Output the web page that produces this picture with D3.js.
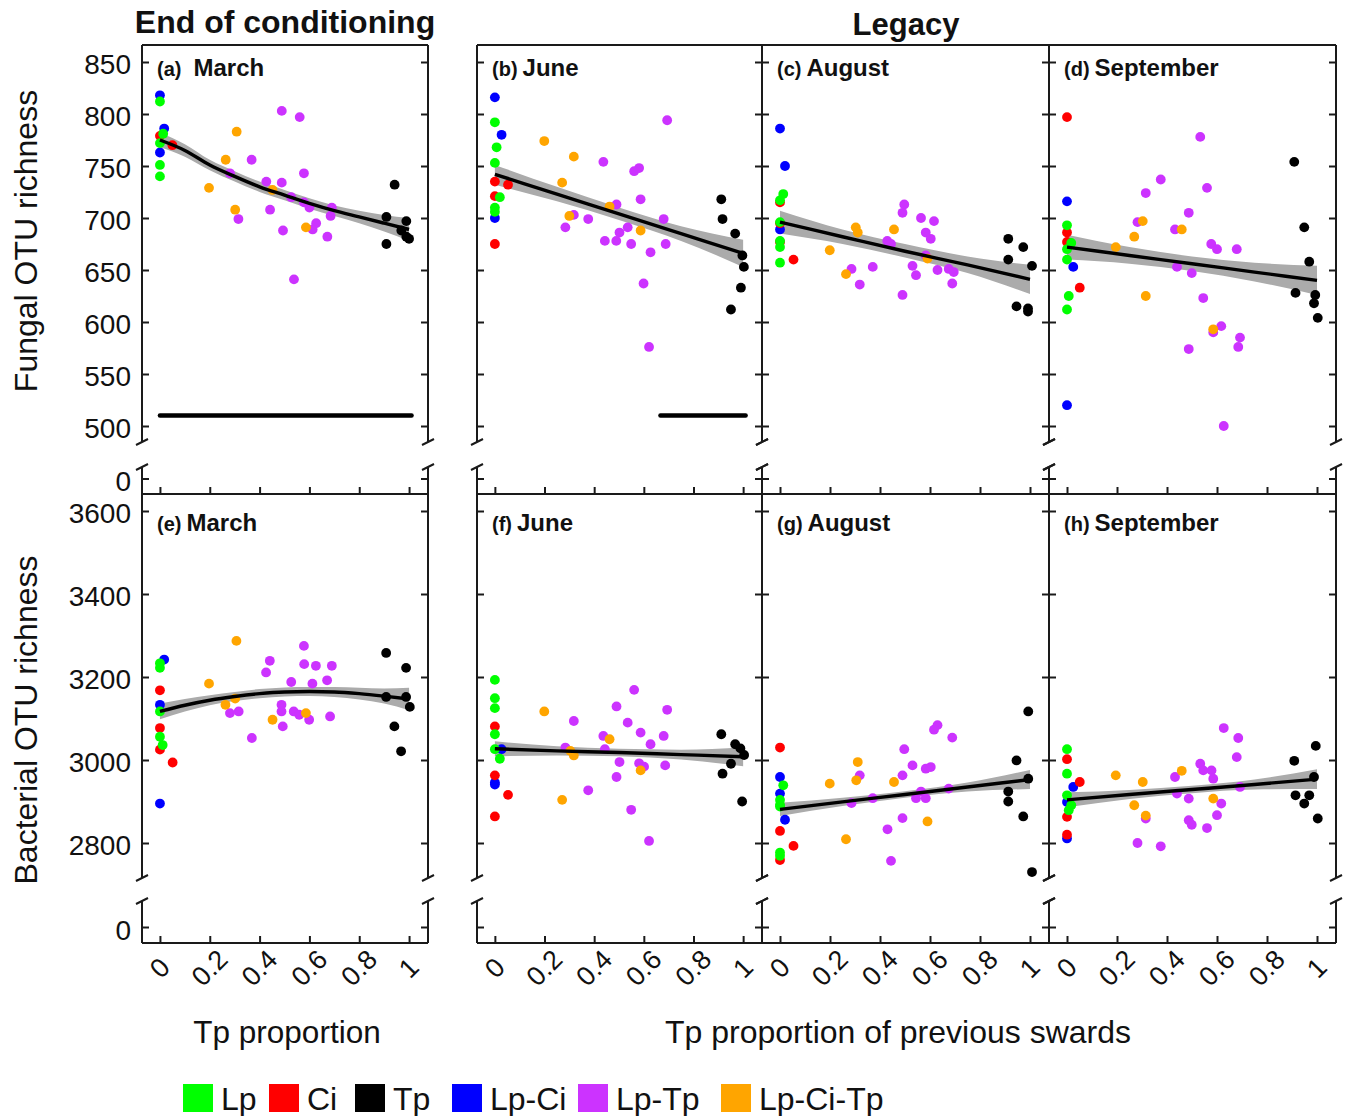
<!DOCTYPE html>
<html>
<head>
<meta charset="utf-8">
<script src="https://cdn.jsdelivr.net/npm/d3@7"></script>
<style>
  body { margin: 0; background: #fff; }
  text { font-family: Arial, "Liberation Sans", sans-serif; fill: #111; }
</style>
</head>
<body>
<svg id="chart" width="1346" height="1116"></svg>
<script>
'use strict';

// ---- data ----
var groups = ['Lp', 'Ci', 'Tp', 'Lp-Ci', 'Lp-Tp', 'Lp-Ci-Tp'];
var groupColors = ['#00FF00', '#FF0000', '#000000', '#0000FF', '#CC33FF', '#FFA500'];
// order in which the colours are stacked on the plot
var drawOrder = ['Tp', 'Lp-Tp', 'Lp-Ci-Tp', 'Lp-Ci', 'Ci', 'Lp'];

var xTicks = [0, 0.2, 0.4, 0.6, 0.8, 1];
var xTickLabels = ['0', '0.2', '0.4', '0.6', '0.8', '1'];
var fungalTicks = [500, 550, 600, 650, 700, 750, 800, 850];
var bactTicks = [2800, 3000, 3200, 3400, 3600];

var fungalMarch = [
  ['Lp-Ci',0,818],['Lp',0,812],['Lp-Ci',0.017,786],['Lp',0.013,781],['Ci',0,779],['Lp',0,772],['Ci',0.05,770],['Lp-Ci',0,763],['Lp',0,751],['Lp',0,740],
  ['Lp-Ci-Tp',0.308,783],['Lp-Ci-Tp',0.264,756],['Lp-Ci-Tp',0.197,729],['Lp-Ci-Tp',0.302,708],['Lp-Ci-Tp',0.452,727],['Lp-Ci-Tp',0.586,691],
  ['Lp-Tp',0.489,803],['Lp-Tp',0.561,797],['Lp-Tp',0.368,756],['Lp-Tp',0.281,743],['Lp-Tp',0.427,735],['Lp-Tp',0.489,734],['Lp-Tp',0.578,743],
  ['Lp-Tp',0.527,720],['Lp-Tp',0.442,708],['Lp-Tp',0.315,699],['Lp-Tp',0.578,715],['Lp-Tp',0.6,710],['Lp-Tp',0.69,710],['Lp-Tp',0.685,702],
  ['Lp-Tp',0.627,695],['Lp-Tp',0.613,689],['Lp-Tp',0.494,688],['Lp-Tp',0.672,682],['Lp-Tp',0.538,641],
  ['Tp',0.942,732],['Tp',0.909,701],['Tp',0.989,697],['Tp',0.969,688],['Tp',0.989,682],['Tp',1.0,680],['Tp',0.909,675]
];
var fungalJune = [
  ['Lp-Ci',0,816],['Lp',0,792],['Lp-Ci',0.027,780],['Lp',0.007,768],['Lp',0,753],['Ci',0,735],['Ci',0.053,732],['Ci',0,721],['Lp',0.02,720],['Lp',0,710],['Lp',0,706],['Lp-Ci',0,700],['Ci',0,675],
  ['Lp-Ci-Tp',0.199,774],['Lp-Ci-Tp',0.318,759],['Lp-Ci-Tp',0.271,734],['Lp-Ci-Tp',0.462,711],['Lp-Ci-Tp',0.3,702],['Lp-Ci-Tp',0.587,688],
  ['Lp-Tp',0.694,794],['Lp-Tp',0.437,754],['Lp-Tp',0.581,748],['Lp-Tp',0.561,745],['Lp-Tp',0.587,718],['Lp-Tp',0.49,713],['Lp-Tp',0.318,703],
  ['Lp-Tp',0.284,691],['Lp-Tp',0.376,699],['Lp-Tp',0.68,699],['Lp-Tp',0.535,691],['Lp-Tp',0.502,686],['Lp-Tp',0.443,678],['Lp-Tp',0.489,678],
  ['Lp-Tp',0.549,675],['Lp-Tp',0.688,675],['Lp-Tp',0.627,667],['Lp-Tp',0.599,637],['Lp-Tp',0.621,576],
  ['Tp',0.912,718],['Tp',0.917,699],['Tp',0.968,685],['Tp',0.997,664],['Tp',1.003,653],['Tp',0.991,633],['Tp',0.951,612]
];
var fungalAugust = [
  ['Lp-Ci',0,786],['Lp-Ci',0.02,750],['Lp',0.013,723],['Ci',0,715],['Lp',0,717],['Ci',0,695],['Lp',0,696],['Lp-Ci',0,689],['Lp',0,678],['Ci',0,677],['Lp',0,672],['Lp',0,657],['Ci',0.054,660],
  ['Lp-Ci-Tp',0.199,669],['Lp-Ci-Tp',0.303,691],['Lp-Ci-Tp',0.311,686],['Lp-Ci-Tp',0.456,689],['Lp-Ci-Tp',0.264,646],['Lp-Ci-Tp',0.59,661],
  ['Lp-Tp',0.497,713],['Lp-Tp',0.49,705],['Lp-Tp',0.564,700],['Lp-Tp',0.616,697],['Lp-Tp',0.583,686],['Lp-Tp',0.603,680],['Lp-Tp',0.429,678],
  ['Lp-Tp',0.444,675],['Lp-Tp',0.583,664],['Lp-Tp',0.53,654],['Lp-Tp',0.286,651],['Lp-Tp',0.371,653],['Lp-Tp',0.63,650],['Lp-Tp',0.675,651],
  ['Lp-Tp',0.695,648],['Lp-Tp',0.544,645],['Lp-Tp',0.319,636],['Lp-Tp',0.689,637],['Lp-Tp',0.49,626],
  ['Tp',0.913,680],['Tp',0.973,672],['Tp',0.913,660],['Tp',1.008,654],['Tp',0.946,615],['Tp',0.992,613],['Tp',0.992,610]
];
var fungalSeptember = [
  ['Lp',0,693],['Lp',0.017,676],['Lp',0,670],['Lp',0,660],['Lp',0.007,625],['Lp',0,612],
  ['Ci',0,797],['Ci',0,686],['Ci',0,677],['Ci',0.051,633],
  ['Lp-Ci',0,716],['Lp-Ci',0.025,653],['Lp-Ci',0,520],
  ['Lp-Ci-Tp',0.303,697],['Lp-Ci-Tp',0.459,689],['Lp-Ci-Tp',0.269,682],['Lp-Ci-Tp',0.195,672],['Lp-Ci-Tp',0.315,625],['Lp-Ci-Tp',0.585,593],
  ['Lp-Tp',0.533,778],['Lp-Tp',0.375,737],['Lp-Tp',0.56,729],['Lp-Tp',0.315,724],['Lp-Tp',0.487,705],['Lp-Tp',0.282,696],['Lp-Tp',0.432,689],
  ['Lp-Tp',0.577,675],['Lp-Tp',0.6,670],['Lp-Tp',0.679,670],['Lp-Tp',0.44,653],['Lp-Tp',0.499,647],['Lp-Tp',0.545,623],['Lp-Tp',0.617,596],
  ['Lp-Tp',0.585,590],['Lp-Tp',0.692,585],['Lp-Tp',0.685,576],['Lp-Tp',0.487,574],['Lp-Tp',0.627,500],
  ['Tp',0.909,754],['Tp',0.949,691],['Tp',0.969,658],['Tp',0.914,628],['Tp',0.993,626],['Tp',0.988,618],['Tp',1.003,604]
];
var bactMarch = [
  ['Lp-Ci',0.017,3242],['Lp-Ci',0,3133],['Lp-Ci',0,2895],
  ['Lp',0,3233],['Lp',0,3222],['Lp',0,3117],['Lp',0,3056],['Lp',0.011,3036],
  ['Ci',0,3168],['Ci',0,3077],['Ci',0,3025],['Ci',0.051,2994],
  ['Lp-Ci-Tp',0.307,3287],['Lp-Ci-Tp',0.197,3184],['Lp-Ci-Tp',0.302,3148],['Lp-Ci-Tp',0.263,3133],['Lp-Ci-Tp',0.452,3097],['Lp-Ci-Tp',0.586,3113],
  ['Lp-Tp',0.578,3275],['Lp-Tp',0.441,3239],['Lp-Tp',0.579,3231],['Lp-Tp',0.626,3227],['Lp-Tp',0.69,3227],['Lp-Tp',0.426,3211],['Lp-Tp',0.527,3188],
  ['Lp-Tp',0.612,3184],['Lp-Tp',0.671,3192],['Lp-Tp',0.488,3133],['Lp-Tp',0.488,3117],['Lp-Tp',0.281,3113],['Lp-Tp',0.316,3117],['Lp-Tp',0.537,3117],
  ['Lp-Tp',0.559,3109],['Lp-Tp',0.599,3097],['Lp-Tp',0.683,3105],['Lp-Tp',0.493,3081],['Lp-Tp',0.369,3053],
  ['Tp',0.908,3258],['Tp',0.988,3222],['Tp',0.908,3152],['Tp',0.988,3152],['Tp',1.003,3128],['Tp',0.941,3081],['Tp',0.968,3021]
];
var bactJune = [
  ['Lp',0,3193],['Lp',0,3149],['Lp',0,3125],['Lp',0,3062],['Lp',0,3026],['Lp',0.02,3003],
  ['Ci',0,3081],['Ci',0,2963],['Ci',0.053,2916],['Ci',0,2864],
  ['Lp-Ci',0.027,3026],['Lp-Ci',0,2946],['Lp-Ci',0,2941],
  ['Lp-Ci-Tp',0.199,3117],['Lp-Ci-Tp',0.462,3050],['Lp-Ci-Tp',0.304,3022],['Lp-Ci-Tp',0.318,3011],['Lp-Ci-Tp',0.587,2975],['Lp-Ci-Tp',0.271,2904],
  ['Lp-Tp',0.561,3169],['Lp-Tp',0.49,3129],['Lp-Tp',0.694,3121],['Lp-Tp',0.318,3094],['Lp-Tp',0.535,3090],['Lp-Tp',0.587,3066],['Lp-Tp',0.437,3058],
  ['Lp-Tp',0.68,3058],['Lp-Tp',0.627,3038],['Lp-Tp',0.284,3030],['Lp-Tp',0.443,3026],['Lp-Tp',0.502,2995],['Lp-Tp',0.581,2992],['Lp-Tp',0.601,2984],
  ['Lp-Tp',0.686,2987],['Lp-Tp',0.49,2959],['Lp-Tp',0.376,2927],['Lp-Tp',0.549,2880],['Lp-Tp',0.621,2805],
  ['Tp',0.912,3062],['Tp',0.968,3038],['Tp',0.989,3028],['Tp',1.004,3012],['Tp',0.951,2991],['Tp',0.917,2967],['Tp',0.996,2900]
];
var bactAugust = [
  ['Lp',0.013,2939],['Lp',0,2904],['Lp',0,2892],['Lp',0,2888],['Lp',0,2777],['Lp',0,2769],
  ['Ci',0,3030],['Ci',0,2829],['Ci',0.054,2793],['Ci',0,2759],
  ['Lp-Ci',0,2959],['Lp-Ci',0,2919],['Lp-Ci',0.02,2856],
  ['Lp-Ci-Tp',0.311,2995],['Lp-Ci-Tp',0.305,2951],['Lp-Ci-Tp',0.456,2947],['Lp-Ci-Tp',0.199,2943],['Lp-Ci-Tp',0.59,2852],['Lp-Ci-Tp',0.264,2809],
  ['Lp-Tp',0.63,3084],['Lp-Tp',0.616,3073],['Lp-Tp',0.689,3054],['Lp-Tp',0.497,3026],['Lp-Tp',0.53,2987],['Lp-Tp',0.583,2979],['Lp-Tp',0.603,2983],
  ['Lp-Tp',0.319,2963],['Lp-Tp',0.49,2963],['Lp-Tp',0.675,2931],['Lp-Tp',0.564,2924],['Lp-Tp',0.544,2908],['Lp-Tp',0.583,2908],['Lp-Tp',0.371,2908],
  ['Lp-Tp',0.286,2896],['Lp-Tp',0.49,2860],['Lp-Tp',0.43,2833],['Lp-Tp',0.444,2757],
  ['Tp',0.993,3117],['Tp',0.946,2999],['Tp',0.993,2955],['Tp',0.913,2924],['Tp',0.913,2900],['Tp',0.973,2864],['Tp',1.008,2730]
];
var bactSeptember = [
  ['Lp',0,3026],['Lp',0,2967],['Lp',0,2915],['Lp',0.017,2891],['Lp',0.007,2879],
  ['Ci',0,3002],['Ci',0.051,2947],['Ci',0,2863],['Ci',0,2820],
  ['Lp-Ci',0.025,2935],['Lp-Ci',0,2899],['Lp-Ci',0,2811],
  ['Lp-Ci-Tp',0.459,2974],['Lp-Ci-Tp',0.195,2963],['Lp-Ci-Tp',0.303,2947],['Lp-Ci-Tp',0.585,2907],['Lp-Ci-Tp',0.269,2891],['Lp-Ci-Tp',0.315,2866],
  ['Lp-Tp',0.627,3077],['Lp-Tp',0.685,3053],['Lp-Tp',0.679,3007],['Lp-Tp',0.533,2991],['Lp-Tp',0.545,2975],['Lp-Tp',0.578,2975],['Lp-Tp',0.432,2959],
  ['Lp-Tp',0.585,2955],['Lp-Tp',0.692,2935],['Lp-Tp',0.44,2919],['Lp-Tp',0.487,2907],['Lp-Tp',0.617,2895],['Lp-Tp',0.6,2867],['Lp-Tp',0.315,2859],
  ['Lp-Tp',0.487,2855],['Lp-Tp',0.499,2844],['Lp-Tp',0.56,2836],['Lp-Tp',0.282,2800],['Lp-Tp',0.375,2792],
  ['Tp',0.995,3034],['Tp',0.909,2998],['Tp',0.988,2959],['Tp',0.914,2915],['Tp',0.969,2915],['Tp',0.949,2895],['Tp',1.003,2859]
];

// fitted line with confidence band: [x, fit, lower, upper]
var fitFungalMarch = [[0,775,768,782],[0.1,765,759,771],[0.2,751,746,756],[0.3,740,735,745],[0.4,730,725,735],[0.5,722,717,727],
  [0.6,714,709,719],[0.7,707,702,712],[0.8,701,695,707],[0.9,695,687,703],[1,689,678,700]];
var fitFungalJune = [[0,742,732,751],[0.25,723,716,730],[0.5,704,698,710],[0.75,685,678,692],[1,666,653,679]];
var fitFungalAugust = [[0,696,685,707],[0.25,682,675,689],[0.5,668,662,675],[0.75,655,647,663],[1,641,627,655]];
var fitFungalSeptember = [[0,672,660,684],[0.25,664,656,672],[0.5,656,649,663],[0.75,648,639,657],[1,640,626,654]];
var fitBactMarch = [[0,3117,3098,3136],[0.1,3132,3117,3147],[0.2,3144,3132,3156],[0.3,3153,3142,3164],[0.4,3160,3149,3171],[0.5,3164,3153,3175],
  [0.6,3165,3154,3176],[0.7,3164,3152,3176],[0.8,3160,3146,3174],[0.9,3154,3136,3172],[1,3147,3120,3174]];
var fitBactJune = [[0,3027,3009,3045],[0.25,3022,3011,3033],[0.5,3018,3009,3027],[0.75,3013,3001,3025],[1,3008,2985,3031]];
var fitBactAugust = [[0,2881,2865,2897],[0.25,2899,2889,2909],[0.5,2917,2909,2925],[0.75,2935,2924,2946],[1,2953,2930,2976]];
var fitBactSeptember = [[0,2904,2886,2922],[0.25,2917,2906,2928],[0.5,2929,2920,2938],[0.75,2941,2929,2953],[1,2954,2930,2978]];

// thick horizontal bars under fungal panels: [x from, x to, y]
var barFungalMarch = [[0, 1.01, 510]];
var barFungalJune = [[0.667, 1.01, 510]];

// ---- layout ----
var svg = d3.select('#chart');
var color = d3.scaleOrdinal().domain(groups).range(groupColors);

var cols = [
  { left: 142, right: 428 },
  { left: 477, right: 762 },
  { left: 762, right: 1049 },
  { left: 1049, right: 1336 }
];
var rows = [
  { top: 45, cut: 442, resume: 467, bottom: 494, labelY: 76, zeroLabelY: 481,
    y: d3.scaleLinear().domain([500, 850]).range([426, 62]),
    y0: d3.scaleLinear().domain([-1, 1]).range([494, 463]),
    ticks: fungalTicks },
  { top: 494, cut: 878, resume: 901, bottom: 943, labelY: 531, zeroLabelY: 930,
    y: d3.scaleLinear().domain([2800, 3600]).range([843, 511]),
    y0: d3.scaleLinear().domain([-1, 1]).range([943, 911]),
    ticks: bactTicks }
];

var panels = [
  { row: 0, col: 0, tag: '(a)', month: 'March', gap: 12, pts: fungalMarch, fit: fitFungalMarch, bars: barFungalMarch },
  { row: 0, col: 1, tag: '(b)', month: 'June', gap: 5, pts: fungalJune, fit: fitFungalJune, bars: barFungalJune },
  { row: 0, col: 2, tag: '(c)', month: 'August', gap: 5, pts: fungalAugust, fit: fitFungalAugust, bars: [] },
  { row: 0, col: 3, tag: '(d)', month: 'September', gap: 5, pts: fungalSeptember, fit: fitFungalSeptember, bars: [] },
  { row: 1, col: 0, tag: '(e)', month: 'March', gap: 5, pts: bactMarch, fit: fitBactMarch, bars: [] },
  { row: 1, col: 1, tag: '(f)', month: 'June', gap: 5, pts: bactJune, fit: fitBactJune, bars: [] },
  { row: 1, col: 2, tag: '(g)', month: 'August', gap: 5, pts: bactAugust, fit: fitBactAugust, bars: [] },
  { row: 1, col: 3, tag: '(h)', month: 'September', gap: 5, pts: bactSeptember, fit: fitBactSeptember, bars: [] }
];

var frameColor = '#1a1a1a';

function seg(g, x1, y1, x2, y2) {
  g.append('line')
    .attr('x1', x1).attr('y1', y1).attr('x2', x2).attr('y2', y2)
    .attr('stroke', frameColor).attr('stroke-width', 2);
}

function cleanAxis(g) {
  g.select('.domain').remove();
  g.selectAll('.tick line').attr('stroke', frameColor).attr('stroke-width', 2);
}

panels.forEach(function(p) {
  var c = cols[p.col], r = rows[p.row];
  var x = d3.scaleLinear().domain([-0.072, 1.076]).range([c.left, c.right]);
  var y = r.y;
  var g = svg.append('g');

  // band + points + fitted line
  g.append('path')
    .datum(p.fit)
    .attr('fill', '#ABABAB')
    .attr('d', d3.area()
      .x(function(d) { return x(d[0]); })
      .y0(function(d) { return y(d[2]); })
      .y1(function(d) { return y(d[3]); })
      .curve(d3.curveMonotoneX));

  var pts = p.pts.slice().sort(function(a, b) {
    return drawOrder.indexOf(a[0]) - drawOrder.indexOf(b[0]);
  });
  g.selectAll('circle')
    .data(pts)
    .enter()
    .append('circle')
    .attr('cx', function(d) { return x(d[1]); })
    .attr('cy', function(d) { return y(d[2]); })
    .attr('r', 4.9)
    .attr('fill', function(d) { return color(d[0]); });

  g.append('path')
    .datum(p.fit)
    .attr('fill', 'none')
    .attr('stroke', '#000')
    .attr('stroke-width', 3.4)
    .attr('d', d3.line()
      .x(function(d) { return x(d[0]); })
      .y(function(d) { return y(d[1]); })
      .curve(d3.curveMonotoneX));

  g.selectAll('line.bar')
    .data(p.bars)
    .enter()
    .append('line')
    .attr('class', 'bar')
    .attr('x1', function(d) { return x(d[0]); })
    .attr('x2', function(d) { return x(d[1]); })
    .attr('y1', function(d) { return y(d[2]); })
    .attr('y2', function(d) { return y(d[2]); })
    .attr('stroke', '#000')
    .attr('stroke-width', 4.5)
    .attr('stroke-linecap', 'round');

  // frame with axis breaks
  [c.left, c.right].forEach(function(sx) {
    seg(g, sx, r.top, sx, r.cut);
    seg(g, sx, r.resume, sx, r.bottom);
    seg(g, sx - 6, r.cut + 3, sx + 6, r.cut - 3);
    seg(g, sx - 6, r.resume + 3, sx + 6, r.resume - 3);
  });
  if (p.row === 0) seg(g, c.left, r.top, c.right, r.top);
  seg(g, c.left, r.bottom, c.right, r.bottom);

  // inward y ticks on both sides
  g.append('g').attr('transform', 'translate(' + c.left + ',0)')
    .call(d3.axisRight(y).tickValues(r.ticks).tickSize(7).tickFormat(''))
    .call(cleanAxis);
  g.append('g').attr('transform', 'translate(' + c.right + ',0)')
    .call(d3.axisLeft(y).tickValues(r.ticks).tickSize(7).tickFormat(''))
    .call(cleanAxis);
  g.append('g').attr('transform', 'translate(' + c.left + ',0)')
    .call(d3.axisRight(r.y0).tickValues([0]).tickSize(7).tickFormat(''))
    .call(cleanAxis);
  g.append('g').attr('transform', 'translate(' + c.right + ',0)')
    .call(d3.axisLeft(r.y0).tickValues([0]).tickSize(7).tickFormat(''))
    .call(cleanAxis);

  // x ticks pointing up from the bottom line
  g.append('g').attr('transform', 'translate(0,' + r.bottom + ')')
    .call(d3.axisTop(x).tickValues(xTicks).tickSize(7).tickFormat(''))
    .call(cleanAxis);

  // y labels only on first column
  if (p.col === 0) {
    g.selectAll('text.ylab')
      .data(r.ticks)
      .enter()
      .append('text')
      .attr('class', 'ylab')
      .attr('x', c.left - 11)
      .attr('y', function(d) { return y(d) + 2; })
      .attr('text-anchor', 'end')
      .attr('dominant-baseline', 'central')
      .style('font-size', '28px')
      .text(function(d) { return d; });
    g.append('text')
      .attr('x', c.left - 11)
      .attr('y', r.zeroLabelY)
      .attr('text-anchor', 'end')
      .attr('dominant-baseline', 'central')
      .style('font-size', '28px')
      .text('0');
  }

  // rotated x tick labels under the bacterial row
  if (p.row === 1) {
    g.selectAll('text.xlab')
      .data(xTicks)
      .enter()
      .append('text')
      .attr('class', 'xlab')
      .attr('transform', function(d) { return 'translate(' + x(d) + ',968) rotate(-45)'; })
      .attr('text-anchor', 'middle')
      .attr('dominant-baseline', 'central')
      .style('font-size', '27px')
      .text(function(d, i) { return xTickLabels[i]; });
  }

  // panel label
  var lab = g.append('text')
    .attr('x', c.left + 15)
    .attr('y', r.labelY)
    .style('font-weight', 'bold');
  lab.append('tspan').style('font-size', '20px').text(p.tag);
  lab.append('tspan').attr('dx', p.gap).style('font-size', '24px').text(p.month);
});

// titles
svg.append('text').attr('x', 285).attr('y', 33)
  .attr('text-anchor', 'middle').style('font-size', '32px').style('font-weight', 'bold')
  .text('End of conditioning');
svg.append('text').attr('x', 906).attr('y', 35)
  .attr('text-anchor', 'middle').style('font-size', '31px').style('font-weight', 'bold')
  .text('Legacy');

svg.append('text').attr('transform', 'translate(37,241) rotate(-90)')
  .attr('text-anchor', 'middle').style('font-size', '32px')
  .text('Fungal OTU richness');
svg.append('text').attr('transform', 'translate(37,720) rotate(-90)')
  .attr('text-anchor', 'middle').style('font-size', '32px')
  .text('Bacterial OTU richness');

svg.append('text').attr('x', 287).attr('y', 1043)
  .attr('text-anchor', 'middle').style('font-size', '31.5px')
  .text('Tp proportion');
svg.append('text').attr('x', 898).attr('y', 1043)
  .attr('text-anchor', 'middle').style('font-size', '32px')
  .text('Tp proportion of previous swards');

// legend
var legendX = [183, 269, 355, 452, 578, 721];
var leg = svg.append('g').selectAll('g')
  .data(groups)
  .enter()
  .append('g')
  .attr('transform', function(d, i) { return 'translate(' + legendX[i] + ',1084)'; });
leg.append('rect')
  .attr('width', 30).attr('height', 28)
  .attr('fill', function(d) { return color(d); });
leg.append('text')
  .attr('x', 38).attr('y', 26)
  .style('font-size', '32px')
  .text(function(d) { return d; });
</script>
</body>
</html>
